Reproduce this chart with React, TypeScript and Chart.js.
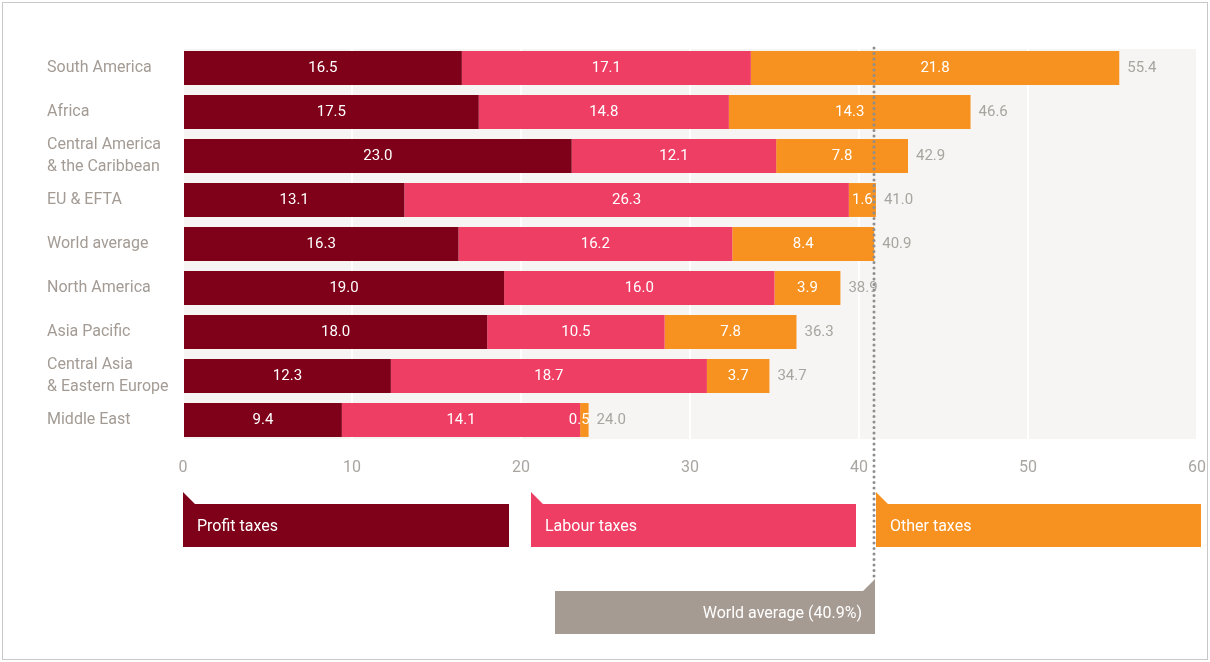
import { useEffect, useRef } from "react";
import { Chart, registerables } from "chart.js";

Chart.register(...registerables);

const categories: (string | string[])[] = [
  "South America",
  "Africa",
  ["Central America", "& the Caribbean"],
  "EU & EFTA",
  "World average",
  "North America",
  "Asia Pacific",
  ["Central Asia", "& Eastern Europe"],
  "Middle East",
];
const profitTaxes = [16.5, 17.5, 23.0, 13.1, 16.3, 19.0, 18.0, 12.3, 9.4];
const labourTaxes = [17.1, 14.8, 12.1, 26.3, 16.2, 16.0, 10.5, 18.7, 14.1];
const otherTaxes = [21.8, 14.3, 7.8, 1.6, 8.4, 3.9, 7.8, 3.7, 0.5];
const totals = [55.4, 46.6, 42.9, 41.0, 40.9, 38.9, 36.3, 34.7, 24.0];
const worldAverage = 40.9;
const worldAverageLabel = "World average (40.9%)";
const seriesNames = ["Profit taxes", "Labour taxes", "Other taxes"];
const xMin = 0;
const xMax = 60;
const xStep = 10;

const COLORS = ["#7e0019", "#ee3e64", "#f7911f"];
const FONT = "Roboto, 'Liberation Sans', Arial, sans-serif";
const GREY_TEXT = "#a39b94";

const panelPlugin = {
  id: "panel",
  beforeDraw(chart: any) {
    const { ctx, chartArea } = chart;
    const meta = chart.getDatasetMeta(0);
    const first = meta.data[0];
    const last = meta.data[meta.data.length - 1];
    const top = first.y - first.height / 2 - 2;
    const bottom = last.y + last.height / 2 + 2;
    ctx.save();
    ctx.fillStyle = "#f7f5f3";
    ctx.fillRect(chartArea.left, top, chartArea.right - chartArea.left, bottom - top);
    ctx.restore();
  },
};

const labelsPlugin = {
  id: "segLabels",
  afterDatasetsDraw(chart: any) {
    const { ctx } = chart;
    ctx.save();
    ctx.font = `15px ${FONT}`;
    ctx.textBaseline = "middle";
    chart.data.datasets.forEach((ds: any, di: number) => {
      const meta = chart.getDatasetMeta(di);
      meta.data.forEach((bar: any, i: number) => {
        const v = ds.data[i];
        const txt = v.toFixed(1);
        const w = ctx.measureText(txt).width;
        const segW = Math.abs(bar.x - bar.base);
        ctx.fillStyle = "#ffffff";
        if (segW < w + 2) {
          ctx.textAlign = "right";
          ctx.fillText(txt, bar.x + 1, bar.y);
        } else {
          ctx.textAlign = "center";
          ctx.fillText(txt, (bar.x + bar.base) / 2, bar.y);
        }
      });
    });
    const lastMeta = chart.getDatasetMeta(chart.data.datasets.length - 1);
    ctx.fillStyle = "#a8a4a0";
    ctx.textAlign = "left";
    lastMeta.data.forEach((bar: any, i: number) => {
      ctx.fillText(totals[i].toFixed(1), bar.x + 8, bar.y);
    });
    ctx.restore();
  },
};

const overlayPlugin = {
  id: "overlay",
  afterDraw(chart: any) {
    const { ctx, scales } = chart;
    const xs = scales.x;
    const avgX = Math.round(xs.getPixelForValue(worldAverage));
    ctx.save();
    // dotted world-average line
    ctx.strokeStyle = "#8e8e8e";
    ctx.lineWidth = 3;
    ctx.lineCap = "round";
    ctx.setLineDash([0, 5.5]);
    ctx.beginPath();
    ctx.moveTo(avgX, 48);
    ctx.lineTo(avgX, 578);
    ctx.stroke();
    ctx.setLineDash([]);

    // legend flags
    const boxes = [
      { x0: 183, x1: 509 },
      { x0: 531, x1: 856 },
      { x0: 876, x1: 1201 },
    ];
    const top = 504;
    const bottom = 547;
    boxes.forEach((b, i) => {
      ctx.fillStyle = COLORS[i];
      ctx.beginPath();
      ctx.moveTo(b.x0, top - 12);
      ctx.lineTo(b.x0 + 12, top);
      ctx.lineTo(b.x1, top);
      ctx.lineTo(b.x1, bottom);
      ctx.lineTo(b.x0, bottom);
      ctx.closePath();
      ctx.fill();
      ctx.fillStyle = "#ffffff";
      ctx.font = `16px ${FONT}`;
      ctx.textAlign = "left";
      ctx.textBaseline = "middle";
      ctx.fillText(seriesNames[i], b.x0 + 14, (top + bottom) / 2 + 1);
    });

    // world average flag
    const wTop = 591;
    const wBottom = 634;
    const wLeft = 555;
    ctx.fillStyle = "#a69b92";
    ctx.beginPath();
    ctx.moveTo(wLeft, wTop);
    ctx.lineTo(avgX - 11, wTop);
    ctx.lineTo(avgX + 1, wTop - 12);
    ctx.lineTo(avgX + 1, wBottom);
    ctx.lineTo(wLeft, wBottom);
    ctx.closePath();
    ctx.fill();
    ctx.fillStyle = "#ffffff";
    ctx.font = `16px ${FONT}`;
    ctx.textAlign = "right";
    ctx.textBaseline = "middle";
    ctx.fillText(worldAverageLabel, avgX - 12, (wTop + wBottom) / 2 + 1);

    // frame
    ctx.strokeStyle = "#c8c8c8";
    ctx.lineWidth = 1;
    ctx.strokeRect(2.5, 2.5, 1205, 657);
    ctx.restore();
  },
};

export default function App() {
  const ref = useRef<HTMLCanvasElement>(null);
  useEffect(() => {
    if (!ref.current) return;
    const chart = new Chart(ref.current, {
      type: "bar",
      data: {
        labels: categories,
        datasets: [profitTaxes, labourTaxes, otherTaxes].map((d, i) => ({
          label: seriesNames[i],
          data: d,
          backgroundColor: COLORS[i],
          borderWidth: 0,
          barPercentage: 0.771,
          categoryPercentage: 1,
          stack: "s",
        })),
      },
      options: {
        indexAxis: "y",
        responsive: false,
        animation: false,
        devicePixelRatio: 1,
        layout: { padding: { left: 47, right: 13, top: 46, bottom: 180 } },
        plugins: {
          legend: { display: false },
          tooltip: { enabled: false },
        },
        scales: {
          x: {
            stacked: true,
            min: xMin,
            max: xMax,
            ticks: {
              stepSize: xStep,
              color: "#aaa5a0",
              font: { family: FONT, size: 16 },
              padding: 16,
            },
            grid: { color: "#ffffff", lineWidth: 2, drawTicks: false },
            border: { display: false },
            afterFit: (s: any) => {
              s.height = 40;
              s.paddingRight = 0;
              s.paddingLeft = 0;
            },
          },
          y: {
            stacked: true,
            ticks: {
              autoSkip: false,
              crossAlign: "far",
              color: GREY_TEXT,
              font: { family: FONT, size: 16, lineHeight: 1.375 },
              padding: 0,
            },
            grid: { display: false, drawTicks: false },
            border: { display: false },
            afterFit: (s: any) => {
              s.width = 136;
              s.paddingTop = 0;
              s.paddingBottom = 0;
            },
          },
        },
      },
      plugins: [panelPlugin, labelsPlugin, overlayPlugin],
    } as any);
    return () => chart.destroy();
  }, []);
  return (
    <div style={{ position: "absolute", left: 0, top: 0, width: 1210, height: 662, background: "#ffffff" }}>
      <canvas ref={ref} width={1210} height={662} style={{ width: 1210, height: 662, display: "block" }} />
    </div>
  );
}
